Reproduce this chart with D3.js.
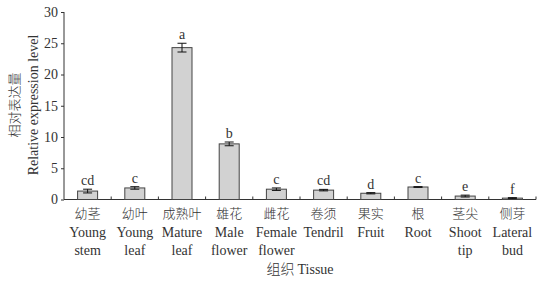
<!DOCTYPE html>
<html>
<head>
<meta charset="utf-8">
<script src="https://cdn.jsdelivr.net/npm/d3@7"></script>
<style>
  body { margin: 0; background: #fff; }
  svg text { fill: #333; }
</style>
</head>
<body>
<div id="chart"></div>
<script>
// Data
const tissuesZh = ["幼茎", "幼叶", "成熟叶", "雄花", "雌花", "卷须", "果实", "根", "茎尖", "侧芽"];
const tissuesEn = [["Young", "stem"], ["Young", "leaf"], ["Mature", "leaf"], ["Male", "flower"], ["Female", "flower"],
                   ["Tendril"], ["Fruit"], ["Root"], ["Shoot", "tip"], ["Lateral", "bud"]];
const expression = [1.35, 1.85, 24.3, 8.9, 1.65, 1.5, 1.0, 2.0, 0.55, 0.22];
const errors = [0.3, 0.2, 0.7, 0.3, 0.2, 0.12, 0.1, 0.06, 0.15, 0.08];
const letters = ["cd", "c", "a", "b", "c", "cd", "d", "c", "e", "f"];
const yTicks = [0, 5, 10, 15, 20, 25, 30];

const W = 542, H = 281;
const margin = { top: 12, right: 6, bottom: 82, left: 64 };
const width = 536 - margin.left;
const height = 199.5 - margin.top;

const serif = "'Liberation Serif', 'Times New Roman', serif";
const cjk = "'Noto Sans CJK SC', sans-serif";

const svg = d3.select("#chart").append("svg")
    .attr("width", W).attr("height", H);
const g = svg.append("g").attr("transform", `translate(${margin.left},${margin.top})`);

const x = d3.scaleBand().domain(d3.range(tissuesZh.length)).range([0, width]).paddingInner(0).paddingOuter(0);
const y = d3.scaleLinear().domain([0, 30]).range([height, 0]);
const barW = 20;

// Y axis
const yAxis = g.append("g").call(d3.axisLeft(y).tickValues(yTicks).tickSize(3).tickPadding(3));
yAxis.select(".domain").attr("stroke", "#333").attr("d", `M0,${y(30)}V${y(0)}`);
yAxis.selectAll(".tick line").attr("stroke", "#333");
yAxis.selectAll("text").style("font-family", serif).style("font-size", "14px").attr("fill", "#333");

// X axis: ticks at band boundaries, pointing up
const xAxis = g.append("g").attr("transform", `translate(0,${height})`);
xAxis.append("path").attr("d", `M0,0H${width}`).attr("stroke", "#333").attr("fill", "none");
xAxis.selectAll("line").data(d3.range(1, tissuesZh.length + 1)).join("line")
    .attr("x1", i => i * x.bandwidth()).attr("x2", i => i * x.bandwidth())
    .attr("y1", 0).attr("y2", -3).attr("stroke", "#333");

// Bars
g.selectAll("rect.bar").data(expression).join("rect")
    .attr("class", "bar")
    .attr("x", (d, i) => x(i) + x.bandwidth() / 2 - barW / 2)
    .attr("width", barW)
    .attr("y", d => y(d))
    .attr("height", d => y(0) - y(d))
    .attr("fill", "#d2d2d2")
    .attr("stroke", "#444").attr("stroke-width", 1);

// Error bars
const eb = g.selectAll("g.err").data(expression).join("g").attr("class", "err")
    .attr("transform", (d, i) => `translate(${x(i) + x.bandwidth() / 2},0)`);
eb.append("line").attr("y1", (d, i) => y(d + errors[i])).attr("y2", (d, i) => y(d - errors[i]))
    .attr("stroke", "#111");
eb.append("line").attr("x1", -4.5).attr("x2", 4.5)
    .attr("y1", (d, i) => y(d + errors[i])).attr("y2", (d, i) => y(d + errors[i])).attr("stroke", "#111");
eb.append("line").attr("x1", -4.5).attr("x2", 4.5)
    .attr("y1", (d, i) => y(d - errors[i])).attr("y2", (d, i) => y(d - errors[i])).attr("stroke", "#111");

// Significance letters
g.selectAll("text.sig").data(letters).join("text")
    .attr("class", "sig")
    .attr("x", (d, i) => x(i) + x.bandwidth() / 2)
    .attr("y", (d, i) => y(expression[i] + errors[i]) - 4)
    .attr("text-anchor", "middle")
    .style("font-family", serif).style("font-size", "14px")
    .text(d => d);

// Category labels
const cat = g.selectAll("g.cat").data(tissuesZh).join("g").attr("class", "cat")
    .attr("transform", (d, i) => `translate(${x(i) + x.bandwidth() / 2},${height})`);
cat.append("text").attr("y", 18).attr("text-anchor", "middle")
    .style("font-family", cjk).style("font-size", "13px").style("font-weight", 300)
    .text(d => d);
cat.each(function(d, i) {
    d3.select(this).selectAll("text.en").data(tissuesEn[i]).join("text")
        .attr("class", "en")
        .attr("y", (t, j) => 37 + j * 18)
        .attr("text-anchor", "middle")
        .style("font-family", serif).style("font-size", "14px")
        .text(t => t);
});

// X title
svg.append("text").attr("x", 300).attr("y", 274).attr("text-anchor", "middle")
    .style("font-size", "14px")
    .call(t => {
        t.append("tspan").style("font-family", cjk).style("font-weight", 300).text("组织 ");
        t.append("tspan").style("font-family", serif).text("Tissue");
    });

// Y title (two lines)
svg.append("text").attr("transform", "translate(19,105) rotate(-90)").attr("text-anchor", "middle")
    .style("font-family", cjk).style("font-size", "13px").style("font-weight", 300)
    .text("相对表达量");
svg.append("text").attr("transform", "translate(38,105) rotate(-90)").attr("text-anchor", "middle")
    .style("font-family", serif).style("font-size", "14px")
    .text("Relative expression level");
</script>
</body>
</html>
